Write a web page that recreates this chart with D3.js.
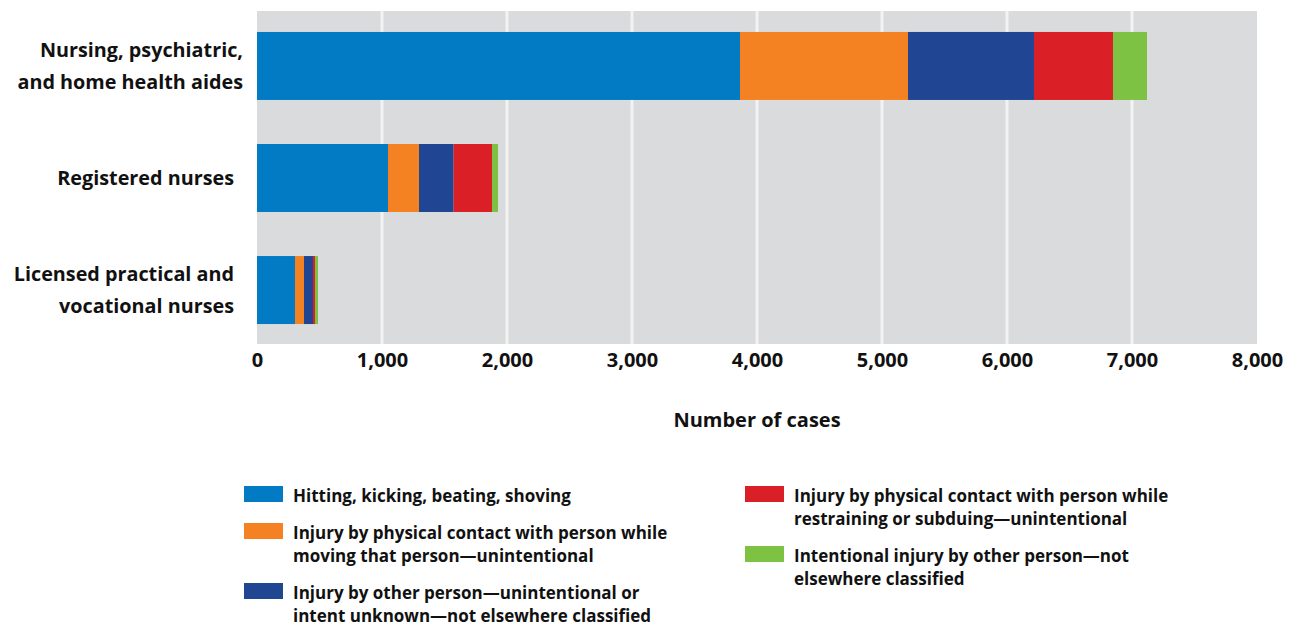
<!DOCTYPE html>
<html>
<head>
<meta charset="utf-8">
<script src="https://cdn.jsdelivr.net/npm/d3@7"></script>
<style>
  body { margin: 0; background: #fff; }
  text { font-family: "Open Sans", sans-serif; font-weight: bold; fill: #111; }
</style>
</head>
<body>
<script>
// categories (one label line per entry)
var categories = ["aides", "registered", "licensed"];
var categoryLines = [
  ["Nursing, psychiatric,", "and home health aides"],
  ["Registered nurses"],
  ["Licensed practical and", "vocational nurses"]
];

// series, in stacking order
var seriesKeys = ["hitting", "moving", "other", "restraining", "intentional"];
var seriesLines = [
  ["Hitting, kicking, beating, shoving"],
  ["Injury by physical contact with person while", "moving that person\u2014unintentional"],
  ["Injury by other person\u2014unintentional or", "intent unknown\u2014not elsewhere classified"],
  ["Injury by physical contact with person while", "restraining or subduing\u2014unintentional"],
  ["Intentional injury by other person\u2014not", "elsewhere classified"]
];
var seriesColors = ["#027bc4", "#f48222", "#204592", "#da1f26", "#7dc242"];

// values per category (aides, registered, licensed)
var hitting     = [3864, 1048, 304];
var moving      = [1344, 248, 72];
var other       = [1008, 277, 72];
var restraining = [632, 307, 16];
var intentional = [272, 48, 24];

var xTicks = [0, 1000, 2000, 3000, 4000, 5000, 6000, 7000, 8000];

// build rows for the stack
var rows = categories.map(function(c, i) {
  return {key: c, hitting: hitting[i], moving: moving[i], other: other[i],
          restraining: restraining[i], intentional: intentional[i]};
});

var width = 1296, height = 626;
var margin = {left: 257, right: 39, top: 10, bottom: 280};

var svg = d3.select("body").append("svg")
  .attr("width", width)
  .attr("height", height);

var x = d3.scaleLinear()
  .domain([0, 8000])
  .range([margin.left, width - margin.right]);

var y = d3.scaleBand()
  .domain(categories)
  .range([margin.top, height - margin.bottom])
  .paddingInner(0.393)
  .paddingOuter(0.196);

var color = d3.scaleOrdinal().domain(seriesKeys).range(seriesColors);

// plot background
svg.append("rect")
  .attr("x", x(0))
  .attr("y", margin.top + 1)
  .attr("width", x(8000) - x(0))
  .attr("height", height - margin.bottom - margin.top - 3)
  .attr("fill", "#dadbdd");

// gridlines
svg.selectAll(".grid")
  .data(xTicks.slice(1, -1))
  .enter().append("line")
  .attr("class", "grid")
  .attr("x1", function(d) { return x(d); })
  .attr("x2", function(d) { return x(d); })
  .attr("y1", margin.top + 1)
  .attr("y2", height - margin.bottom - 2)
  .attr("stroke", "#f3f3f4")
  .attr("stroke-width", 3);

// stacked bars
var stacked = d3.stack().keys(seriesKeys)(rows);

svg.selectAll(".series")
  .data(stacked)
  .enter().append("g")
  .attr("class", "series")
  .attr("fill", function(d) { return color(d.key); })
  .selectAll("rect")
  .data(function(d) { return d; })
  .enter().append("rect")
  .attr("x", function(d) { return x(d[0]); })
  .attr("y", function(d) { return y(d.data.key); })
  .attr("width", function(d) { return x(d[1]) - x(d[0]); })
  .attr("height", y.bandwidth());

// x axis labels
var xAxis = d3.axisBottom(x)
  .tickValues(xTicks)
  .tickFormat(d3.format(","))
  .tickSize(0)
  .tickPadding(0);

var axisG = svg.append("g")
  .attr("transform", "translate(0, 353)")
  .call(xAxis);
axisG.select(".domain").remove();
axisG.selectAll("text")
  .attr("dy", "0.71em")
  .style("font-family", "'Open Sans', sans-serif")
  .style("font-weight", "bold")
  .style("font-size", "20px")
  .attr("fill", "#111");

svg.append("text")
  .attr("x", (x(0) + x(8000)) / 2)
  .attr("y", 427)
  .attr("text-anchor", "middle")
  .style("font-size", "20px")
  .text("Number of cases");

// category labels
var catG = svg.selectAll(".cat")
  .data(categories)
  .enter().append("text")
  .attr("class", "cat")
  .attr("text-anchor", "end")
  .style("font-size", "19.8px")
  .attr("transform", function(d, i) {
    var n = categoryLines[i].length;
    var cy = y(d) + y.bandwidth() / 2 - (n - 1) * 16 + 7;
    var rx = i == 0 ? 243 : 234;
    return "translate(" + rx + "," + cy + ")";
  });

catG.selectAll("tspan")
  .data(function(d, i) { return categoryLines[i]; })
  .enter().append("tspan")
  .attr("x", 0)
  .attr("y", function(d, j) { return j * 32; })
  .text(function(d) { return d; });

// legend: first three items left column, last two right column
var legendX = [244, 745];
var lineH = 23;
var itemGap = 14;
var colY = [0, 0];
var legendItems = seriesKeys.map(function(k, i) {
  var col = i < 3 ? 0 : 1;
  var item = {key: k, lines: seriesLines[i], col: col, top: 486 + colY[col]};
  colY[col] += seriesLines[i].length * lineH + itemGap;
  return item;
});

var legend = svg.selectAll(".legend")
  .data(legendItems)
  .enter().append("g")
  .attr("class", "legend")
  .attr("transform", function(d) { return "translate(" + legendX[d.col] + "," + d.top + ")"; });

legend.append("rect")
  .attr("width", 39)
  .attr("height", 16)
  .attr("fill", function(d) { return color(d.key); });

legend.append("text")
  .style("font-size", "17px")
  .selectAll("tspan")
  .data(function(d) { return d.lines; })
  .enter().append("tspan")
  .attr("x", 49)
  .attr("y", function(d, j) { return 16 + j * lineH; })
  .text(function(d) { return d; });
</script>
</body>
</html>
